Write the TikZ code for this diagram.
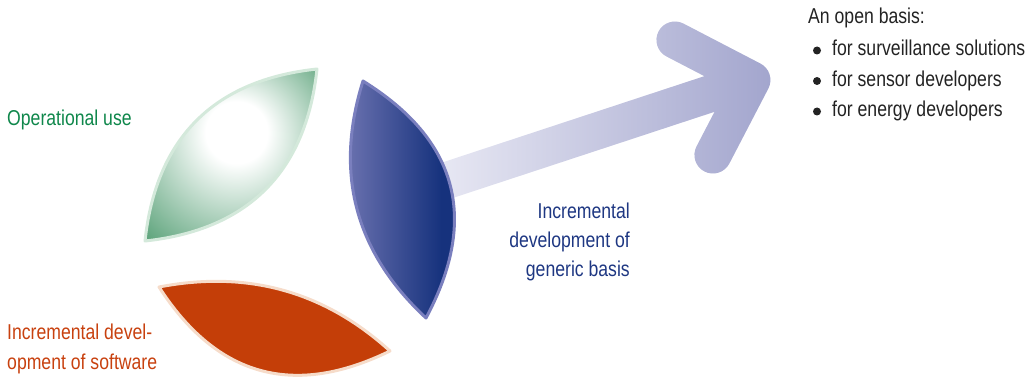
\documentclass[tikz,border=0pt]{standalone}
\usepackage{fontspec}
\setmainfont{Liberation Sans}[FakeStretch=0.82]
\usetikzlibrary{fadings}
\definecolor{leafgreen}{RGB}{62,146,98}
\definecolor{greenrim}{RGB}{212,233,219}
\definecolor{bluelight}{RGB}{118,122,182}
\definecolor{bluedark}{RGB}{22,50,125}
\definecolor{bluerim}{RGB}{122,127,190}
\definecolor{orangefill}{RGB}{196,62,8}
\definecolor{orangerim}{RGB}{246,220,202}
\definecolor{arrowlight}{RGB}{238,238,247}
\definecolor{arrowdark}{RGB}{163,166,206}
\definecolor{textgreen}{RGB}{15,135,75}
\definecolor{textblue}{RGB}{30,55,130}
\definecolor{textorange}{RGB}{200,65,15}
\definecolor{textgray}{RGB}{35,35,35}
\tikzfading[name=arrowfade, left color=transparent!100, right color=transparent!0]
\pgfdeclareradialshading{leafglow}{\pgfpoint{2bp}{8bp}}{color(0bp)=(white); color(9bp)=(white); color(42bp)=(leafgreen); color(50bp)=(leafgreen)}
\pgfdeclarehorizontalshading{leafdepth}{100bp}{color(0bp)=(bluelight); color(25bp)=(bluelight); color(62bp)=(bluedark); color(100bp)=(bluedark)}

\begin{document}
\begin{tikzpicture}[x=1pt, y=-1pt,
	rim/.style={line width=3pt, line join=round},
	txt/.style={inner sep=0pt, font=\fontsize{21.5}{29.3}\selectfont},
	arrowline/.style={line width=37pt, line cap=round, line join=round}]
	\useasboundingbox (0,0) rectangle (1035,382);
	% arrow
	\draw[arrowline, arrowlight] (430,186) -- (752,80) (675,40) -- (752,80) -- (713,155);
	\draw[arrowline, arrowdark, path fading=arrowfade] (430,186) -- (752,80) (675,40) -- (752,80) -- (713,155);
	% leaves
	\shade[shading=leafglow, draw=greenrim, rim] (145,241) .. controls (156,138) and (214,80) .. (317,69)
		.. controls (306,172) and (248,230) .. cycle;
	\shade[shading=leafdepth, draw=bluerim, rim] (363,81) .. controls (334,173) and (355,252) .. (426,318)
		.. controls (479,219) and (458,140) .. cycle;
	\filldraw[fill=orangefill, draw=orangerim, rim] (159,287) .. controls (247,270) and (324,291) .. (390,351)
		.. controls (294,398) and (217,377) .. cycle;
	% labels
	\node[txt, text=textgreen, anchor=base west] (usetext) at (7,126) {Operational use};
	\node[txt, text=textorange, anchor=base west, align=left] (softtext) at (7,369) {Incremental devel-\\opment of software};
	\node[txt, text=textblue, anchor=base east, align=right] (basistext) at (630,276.7) {Incremental\\development of\\generic basis};
	\node[txt, text=textgray, anchor=base west] (opentext) at (808,23.5) {An open basis:};
	\foreach \y/\t [count=\i] in {56/for surveillance solutions, 86.5/for sensor developers, 117/for energy developers} {
		\fill[textgray] (817,\y-5.5) circle (4pt);
		\node[txt, text=textgray, anchor=base west] (item\i) at (832,\y) {\t};
	}
\end{tikzpicture}
\end{document}
